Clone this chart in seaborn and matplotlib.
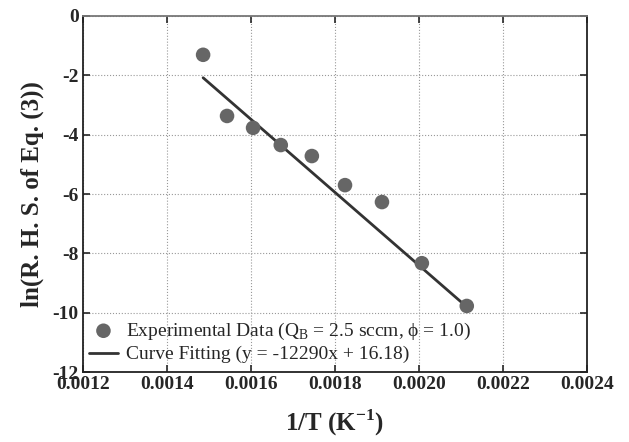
import matplotlib
matplotlib.use("Agg")
import matplotlib.pyplot as plt
import seaborn as sns
import numpy as np
import pandas as pd

# Data
inv_T = [0.001486, 0.001543, 0.001605, 0.001671, 0.001745,
         0.001824, 0.001912, 0.002007, 0.002114]
ln_rhs = [-1.31, -3.37, -3.77, -4.35, -4.72, -5.70, -6.27, -8.33, -9.77]
fit_slope = -12290
fit_intercept = 16.18
x_ticks = [0.0012, 0.0014, 0.0016, 0.0018, 0.0020, 0.0022, 0.0024]
y_ticks = [0, -2, -4, -6, -8, -10, -12]

sns.set_style("white")
plt.rcParams['font.family'] = ['Liberation Serif', 'DejaVu Serif']
plt.rcParams['mathtext.fontset'] = 'custom'
plt.rcParams['mathtext.rm'] = 'Liberation Serif'
plt.rcParams['mathtext.bf'] = 'Liberation Serif:bold'

df = pd.DataFrame({'x': inv_T, 'y': ln_rhs})
fit_x = np.array([inv_T[0], inv_T[-1]])
df_fit = pd.DataFrame({'x': fit_x, 'y': fit_slope * fit_x + fit_intercept})

fig = plt.figure(figsize=(6.29, 4.42), dpi=100)
ax = fig.add_axes([0.132, 0.158, 0.801, 0.806])

ax.grid(True, linestyle=':', color='#999999', linewidth=0.8)
sns.scatterplot(data=df, x='x', y='y', ax=ax, color='#666666', s=110,
                edgecolor='none', zorder=3,
                label='Experimental Data (Q$_\\mathrm{B}$ = 2.5 sccm, \u03d5 = 1.0)')
sns.lineplot(data=df_fit, x='x', y='y', ax=ax, color='#333333', linewidth=2,
             zorder=2, label='Curve Fitting (y = -12290x + 16.18)')

ax.set_xlim(0.0012, 0.0024)
ax.set_ylim(-12, 0)
ax.set_xticks(x_ticks)
ax.set_xticklabels([f"{t:.4f}" for t in x_ticks], fontweight='bold', fontsize=14)
ax.set_yticks(y_ticks)
ax.set_yticklabels([str(t) for t in y_ticks], fontweight='bold', fontsize=14)
ax.tick_params(direction='in', length=5, width=1.2, top=True, right=True,
               bottom=True, left=True, pad=3)

for side in ['left', 'bottom', 'right', 'top']:
    ax.spines[side].set_linewidth(1.3)
    ax.spines[side].set_color('#222222')
ax.spines['top'].set_color('#777777')

ax.set_xlabel(r'1/T (K$^{\mathbf{-1}}$)', fontweight='bold', fontsize=18, labelpad=10)
ax.set_ylabel('ln(R. H. S. of Eq. (3))', fontweight='bold', fontsize=18, labelpad=6)

leg = ax.legend(loc='lower left', bbox_to_anchor=(0.0, 0.008), frameon=False,
                fontsize=14, handlelength=1.5, handletextpad=0.4,
                borderaxespad=0.0, borderpad=0.3, labelspacing=0.2)

fig.savefig('out.png', dpi=100)
